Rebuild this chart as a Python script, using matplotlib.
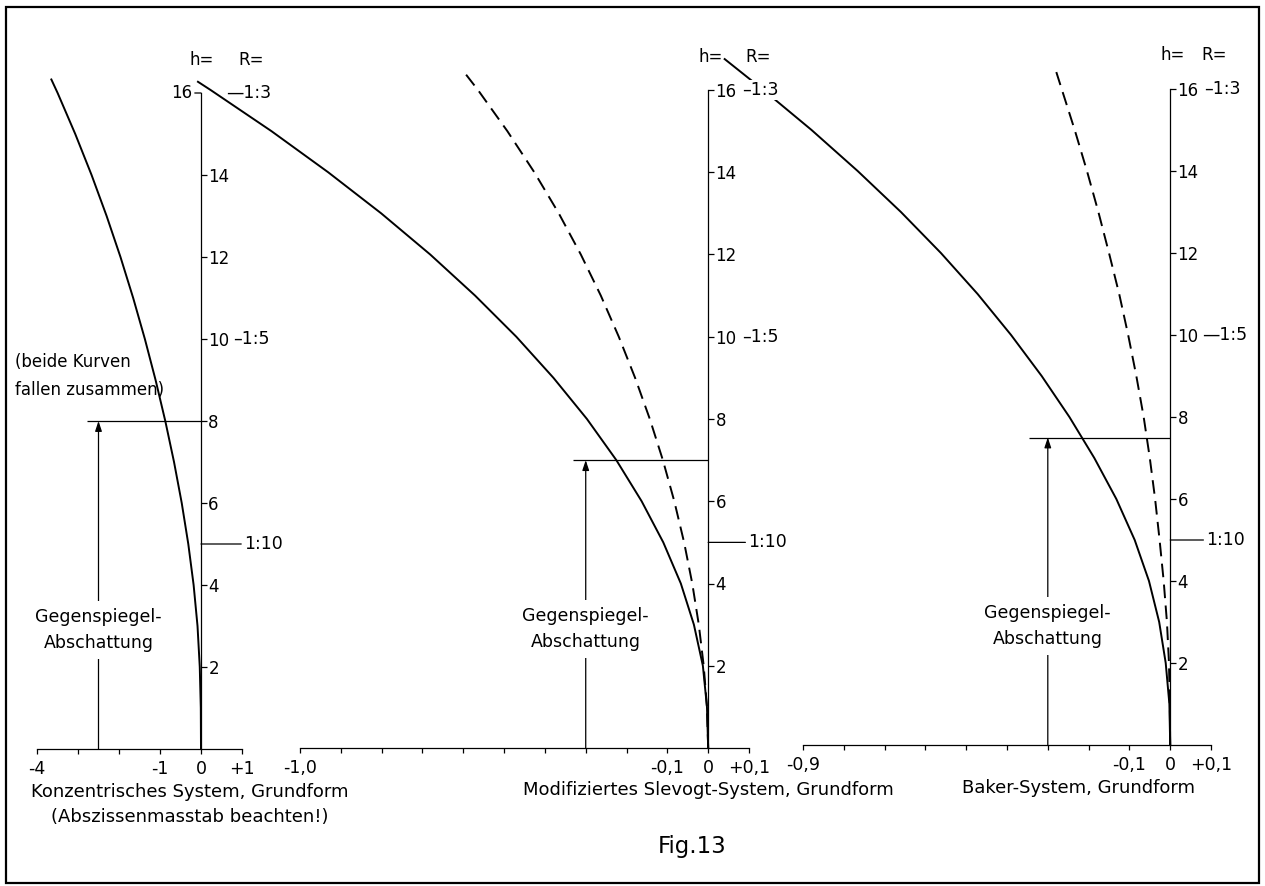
import matplotlib
matplotlib.use('Agg')
import matplotlib.pyplot as plt
from matplotlib.patches import Rectangle
from matplotlib.ticker import FixedLocator, FixedFormatter

plt.rcParams['font.family'] = ['DejaVu Sans']
plt.rcParams['font.size'] = 12

W, H = 1265, 886

# Einfallshoehe h, fuer alle Kurven gleich
h_vals = [0, 1, 2, 3, 4, 5, 6, 7, 8, 9, 10, 11, 12, 13, 14, 15, 16]

# Konzentrisches System (beide Kurven fallen zusammen)
konz_h = h_vals + [16.33]
konz_x = [0, -0.005, -0.03, -0.085, -0.18, -0.31, -0.47, -0.658, -0.871, -1.108,
          -1.369, -1.654, -1.964, -2.302, -2.669, -3.067, -3.497, -3.65]

# Modifiziertes Slevogt-System
slev_h = h_vals + [16.2]
slev_x = [0, -0.003, -0.013, -0.035, -0.067, -0.11, -0.163, -0.225, -0.297,
          -0.379, -0.47, -0.571, -0.681, -0.801, -0.931, -1.07, -1.219, -1.25]
slev_h_dash = h_vals + [16.41]
slev_x_dash = [0, -0.003, -0.011, -0.023, -0.039, -0.059, -0.083, -0.111, -0.143,
               -0.179, -0.219, -0.263, -0.312, -0.366, -0.426, -0.492, -0.564, -0.596]

# Baker-System
baker_h = h_vals + [16.73]
baker_x = [0, -0.002, -0.011, -0.027, -0.052, -0.087, -0.132, -0.186, -0.247,
           -0.315, -0.39, -0.472, -0.562, -0.66, -0.766, -0.879, -1.0, -1.092]
baker_h_dash = h_vals + [16.44]
baker_x_dash = [0, -0.001, -0.003, -0.008, -0.016, -0.026, -0.037, -0.05, -0.065,
                -0.083, -0.103, -0.125, -0.15, -0.176, -0.204, -0.234, -0.266, -0.28]

# Abszissen-Teilung und Beschriftung
konz_ticks = [-4, -3, -2, -1, 0, 1]
konz_labels = ['-4', '', '', '-1', '0', '+1']
slev_ticks = [-1.0, -0.9, -0.8, -0.7, -0.6, -0.5, -0.4, -0.3, -0.2, -0.1, 0, 0.1]
slev_labels = ['-1,0', '', '', '', '', '', '', '', '', '-0,1', '0', '+0,1']
baker_ticks = [-0.9, -0.8, -0.7, -0.6, -0.5, -0.4, -0.3, -0.2, -0.1, 0, 0.1]
baker_labels = ['-0,9', '', '', '', '', '', '', '', '-0,1', '0', '+0,1']

# Ordinaten-Teilung, Oeffnungsverhaeltnis R
h_ticks_konz = [2, 4, 6, 8, 10, 12, 14]
h_ticks = [2, 4, 6, 8, 10, 12, 14, 16]
R_h = [16, 10, 5]
R_labels = ['1:3', '1:5', '1:10']

# Gegenspiegel-Abschattung: Lage und Hoehe
shadow_x = [-2.5, -0.3, -0.3]
shadow_h = [8, 7, 7.5]

EN, EM = '\u2013', '\u2014'


def fx(px):
    return px / W


def fy(py):
    return 1 - py / H


def make_axes(fig, left, right, base, top, xlim, xt, xl, yt):
    ax = fig.add_axes([fx(left), fy(base), fx(right - left), (base - top) / H])
    ax.set_xlim(*xlim)
    ax.set_ylim(0, 16)
    ax.patch.set_visible(False)
    ax.spines['top'].set_visible(False)
    ax.spines['left'].set_visible(False)
    ax.spines['right'].set_position(('data', 0))
    ax.spines['right'].set_bounds(0, 16)
    for s in ('right', 'bottom'):
        ax.spines[s].set_linewidth(0.9)
    ax.yaxis.set_ticks_position('right')
    ax.xaxis.set_major_locator(FixedLocator(xt))
    ax.xaxis.set_major_formatter(FixedFormatter(xl))
    ax.set_yticks(yt)
    ax.set_yticklabels([str(v) for v in yt])
    ax.tick_params(axis='x', direction='out', length=3.5, width=0.9, pad=4.5, labelsize=12.5)
    ax.tick_params(axis='y', direction='out', length=4.5, width=0.9, pad=0.8, labelsize=12)
    return ax


def r_labels(ax, dashes, dx_text, dx_1to10, cover=False):
    for hv, lab, d, dx in zip(R_h[:2], R_labels[:2], dashes, dx_text):
        box = dict(fc='white', ec='none', pad=0.5) if cover else None
        ax.annotate(d + lab, xy=(0, hv), xytext=(dx, 0), textcoords='offset pixels',
                    ha='left', va='center', fontsize=12.5, annotation_clip=False,
                    bbox=box)
    ax.annotate(R_labels[2], xy=(0, R_h[2]), xytext=(dx_1to10, 0), textcoords='offset pixels',
                ha='left', va='center', fontsize=12.5, annotation_clip=False,
                arrowprops=dict(arrowstyle='-', lw=0.9, shrinkA=0, shrinkB=0))


def header(ax, dx_h, dx_r, dy):
    for lab, dx in (('h=', dx_h), ('R=', dx_r)):
        ax.annotate(lab, xy=(0, 16), xytext=(dx, dy), textcoords='offset pixels',
                    ha='center', va='center', fontsize=12, annotation_clip=False)


def shadow(ax, sx, sh, x0):
    ax.hlines(sh, x0, 0, color='black', lw=0.9, clip_on=False)
    ax.annotate('', xy=(sx, sh), xytext=(sx, 0), annotation_clip=False,
                arrowprops=dict(arrowstyle='-|>,head_length=0.6,head_width=0.2',
                                color='black', lw=0.9, mutation_scale=10,
                                shrinkA=0, shrinkB=0))
    ax.text(sx, 2.9, 'Gegenspiegel-\nAbschattung', ha='center', va='center',
            fontsize=12.5, linespacing=1.55, clip_on=False,
            bbox=dict(fc='white', ec='none', pad=5))


fig = plt.figure(figsize=(W / 100, H / 100), dpi=100)

# rechts zuerst, damit die Beschriftungen links darueber liegen
ax3 = make_axes(fig, 803, 1211, 745, 89, (-0.9, 0.1), baker_ticks, baker_labels, h_ticks)
ax2 = make_axes(fig, 300, 749, 748, 90, (-1.0, 0.1), slev_ticks, slev_labels, h_ticks)
ax1 = make_axes(fig, 37, 242, 749, 93, (-4, 1), konz_ticks, konz_labels, h_ticks_konz)

lw = 1.4
ax1.plot(konz_x, konz_h, color='black', lw=lw, clip_on=False)
ax2.plot(slev_x, slev_h, color='black', lw=lw, clip_on=False)
ax2.plot(slev_x_dash, slev_h_dash, color='black', lw=lw, dashes=(7, 3.8), clip_on=False)
ax3.plot(baker_x, baker_h, color='black', lw=lw, clip_on=False)
ax3.plot(baker_x_dash, baker_h_dash, color='black', lw=lw, dashes=(7, 3.8), clip_on=False)

# 16 links der Achse beim konzentrischen System
ax1.annotate('16', xy=(0, 16), xytext=(-9, 0), textcoords='offset pixels',
             ha='right', va='center', fontsize=12, annotation_clip=False,
             arrowprops=dict(arrowstyle='-', lw=0.9, shrinkA=0, shrinkB=0))

r_labels(ax1, [EM, EN], [25, 32], 43)
r_labels(ax2, [EN, EN], [34, 34], 40, cover=True)
r_labels(ax3, [EN, EM], [34, 32], 36)

header(ax1, 1, 50, 33)
header(ax2, 3, 50, 33)
header(ax3, 2, 44, 34)

shadow(ax1, shadow_x[0], shadow_h[0], -2.78)
shadow(ax2, shadow_x[1], shadow_h[1], -0.33)
shadow(ax3, shadow_x[2], shadow_h[2], -0.345)

fig.text(fx(15), fy(376), '(beide Kurven\nfallen zusammen)', ha='left', va='center',
         fontsize=12, linespacing=1.75)

fig.text(fx(190), fy(792), 'Konzentrisches System, Grundform', ha='center', va='center', fontsize=13)
fig.text(fx(190), fy(817), '(Abszissenmasstab beachten!)', ha='center', va='center', fontsize=13)
fig.text(fx(708), fy(790), 'Modifiziertes Slevogt-System, Grundform', ha='center', va='center', fontsize=13)
fig.text(fx(1079), fy(788), 'Baker-System, Grundform', ha='center', va='center', fontsize=13)
fig.text(fx(692), fy(847), 'Fig.13', ha='center', va='center', fontsize=16.5)

fig.add_artist(Rectangle((fx(6), fy(883)), fx(1259 - 6), (883 - 7) / H,
                         transform=fig.transFigure, fill=False, lw=1.6, color='black'))

fig.savefig('out.png', dpi=100)
